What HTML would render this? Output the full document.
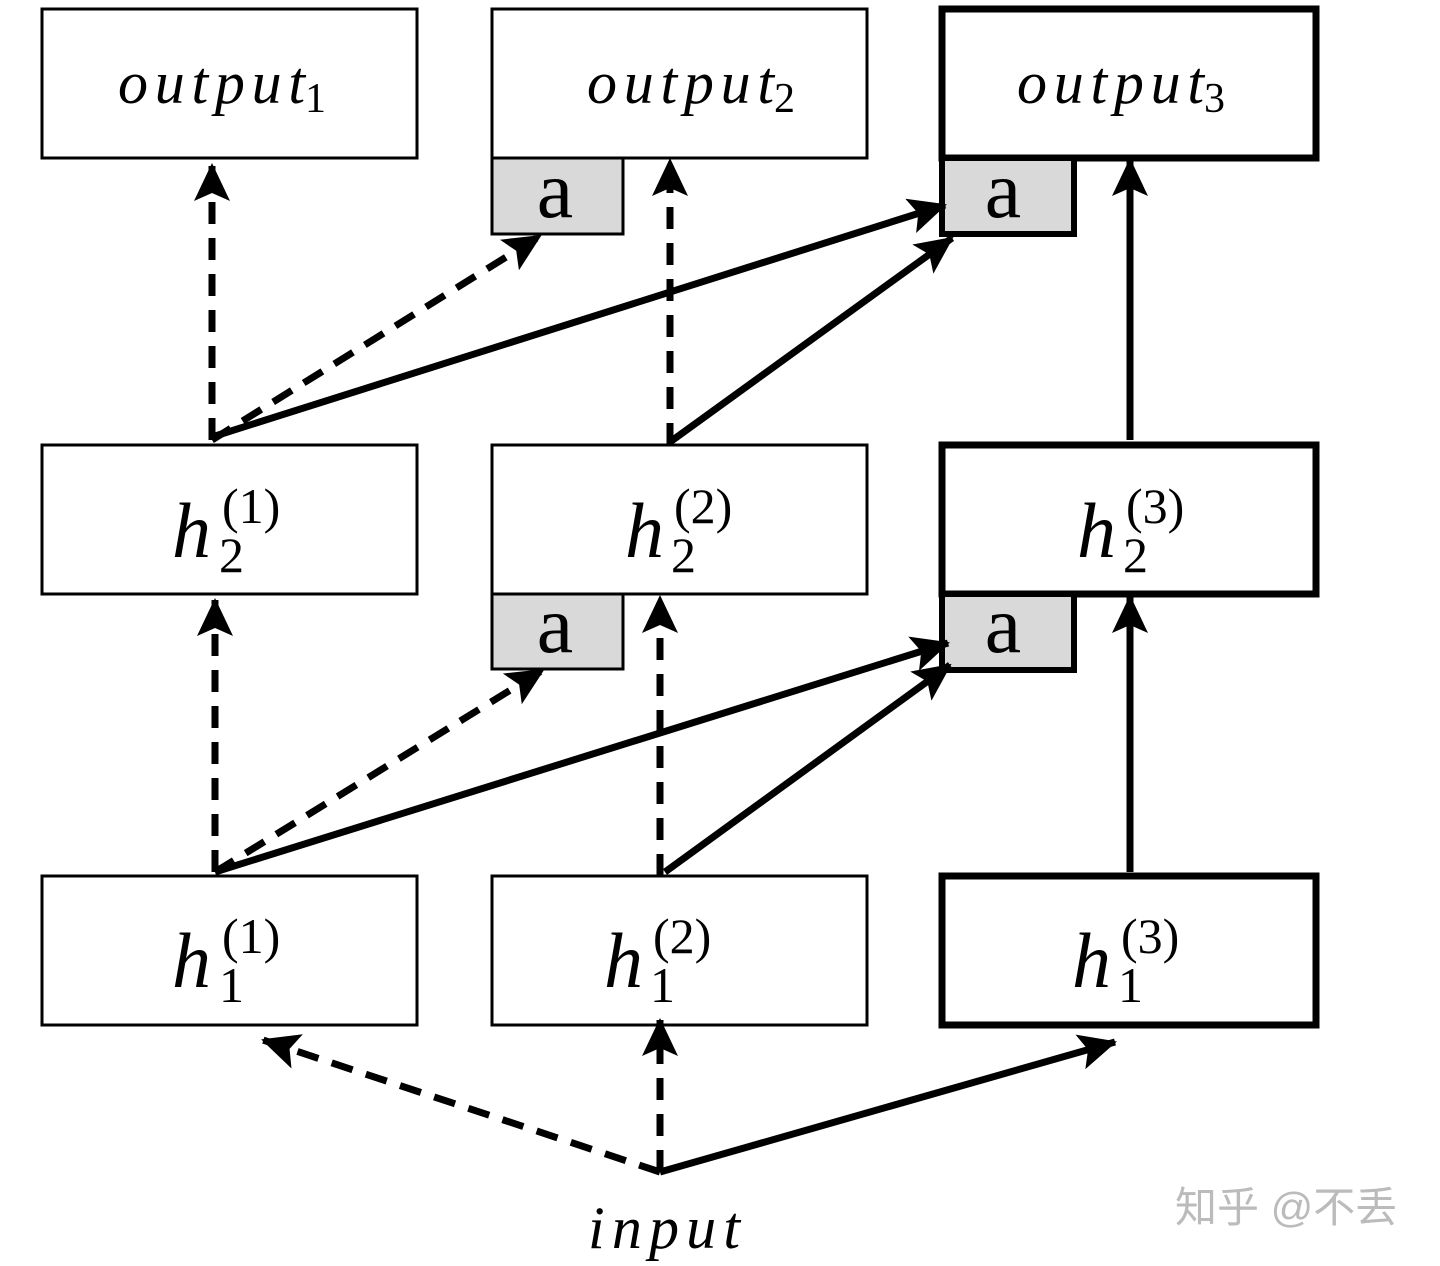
<!DOCTYPE html>
<html><head><meta charset="utf-8"><style>
html,body{margin:0;padding:0;background:#fff;}
svg{display:block;}
.t{font-family:"Liberation Serif",serif;font-style:italic;}
.r{font-family:"Liberation Serif",serif;font-style:normal;}
</style></head><body>
<svg width="1440" height="1266" viewBox="0 0 1440 1266" xmlns="http://www.w3.org/2000/svg">
<defs>
<marker id="ah" markerUnits="userSpaceOnUse" markerWidth="40" markerHeight="36" refX="36" refY="18" orient="auto">
<path d="M0,0 L38,18 L0,36 L8,18 Z" fill="#000"/>
</marker>
</defs>
<g fill="#fff" stroke="#000">
<rect x="42" y="9" width="375" height="149" stroke-width="3"/>
<rect x="492" y="9" width="375" height="149" stroke-width="3"/>
<rect x="942" y="9" width="374" height="149" stroke-width="7"/>
<rect x="42" y="445" width="375" height="149" stroke-width="3"/>
<rect x="492" y="445" width="375" height="149" stroke-width="3"/>
<rect x="942" y="445" width="374" height="149" stroke-width="7"/>
<rect x="42" y="876" width="375" height="149" stroke-width="3"/>
<rect x="492" y="876" width="375" height="149" stroke-width="3"/>
<rect x="942" y="876" width="374" height="149" stroke-width="7"/>
</g>
<g fill="#d9d9d9" stroke="#000">
<rect x="492" y="158" width="131" height="76" stroke-width="3"/>
<rect x="942" y="158" width="132" height="76" stroke-width="6"/>
<rect x="492" y="594" width="131" height="75" stroke-width="3"/>
<rect x="942" y="594" width="132" height="76" stroke-width="6"/>
</g>
<g class="r" font-size="82" text-anchor="middle">
<text x="555" y="217">a</text>
<text x="1003" y="217">a</text>
<text x="555" y="652">a</text>
<text x="1003" y="652">a</text>
</g>
<g font-size="60">
<text class="t" x="118" y="103" textLength="187" lengthAdjust="spacing">output</text><text class="r" x="305" y="112" font-size="42">1</text>
<text class="t" x="587" y="103" textLength="187" lengthAdjust="spacing">output</text><text class="r" x="774" y="112" font-size="42">2</text>
<text class="t" x="1017" y="103" textLength="187" lengthAdjust="spacing">output</text><text class="r" x="1204" y="112" font-size="42">3</text>
</g>
<g font-size="78">
<text class="t" x="172" y="557">h</text><text class="r" x="219" y="572" font-size="50">2</text><text class="r" x="222" y="523" font-size="50">(1)</text>
<text class="t" x="625" y="557">h</text><text class="r" x="671" y="572" font-size="50">2</text><text class="r" x="674" y="523" font-size="50">(2)</text>
<text class="t" x="1077" y="557">h</text><text class="r" x="1123" y="572" font-size="50">2</text><text class="r" x="1126" y="523" font-size="50">(3)</text>
<text class="t" x="172" y="987">h</text><text class="r" x="219" y="1002" font-size="50">1</text><text class="r" x="222" y="953" font-size="50">(1)</text>
<text class="t" x="604" y="987">h</text><text class="r" x="650" y="1002" font-size="50">1</text><text class="r" x="653" y="953" font-size="50">(2)</text>
<text class="t" x="1072" y="987">h</text><text class="r" x="1118" y="1002" font-size="50">1</text><text class="r" x="1121" y="953" font-size="50">(3)</text>
</g>
<text class="t" x="588" y="1248" font-size="60" textLength="152" lengthAdjust="spacing">input</text>
<g stroke="#000" stroke-width="7" fill="none" marker-end="url(#ah)">
<g stroke-dasharray="22,14">
<line x1="212" y1="440" x2="212" y2="165"/>
<line x1="212" y1="440" x2="540" y2="236"/>
<line x1="670" y1="445" x2="670" y2="160"/>
<line x1="215" y1="872" x2="215" y2="600"/>
<line x1="215" y1="872" x2="543" y2="670"/>
<line x1="660" y1="876" x2="660" y2="597"/>
<line x1="660" y1="1172" x2="263" y2="1040"/>
<line x1="660" y1="1172" x2="660" y2="1020"/>
</g>
<line x1="212" y1="437" x2="945" y2="205"/>
<line x1="670" y1="442" x2="952" y2="238"/>
<line x1="1130" y1="440" x2="1130" y2="160"/>
<line x1="215" y1="872" x2="948" y2="643"/>
<line x1="665" y1="872" x2="950" y2="665"/>
<line x1="1130" y1="872" x2="1130" y2="597"/>
<line x1="660" y1="1172" x2="1115" y2="1042"/>
</g>
<text x="1175" y="1222" font-family="'Liberation Sans','Noto Sans CJK SC',sans-serif" font-size="42" fill="#bbb">知乎 @不丢</text>
</svg>
</body></html>
